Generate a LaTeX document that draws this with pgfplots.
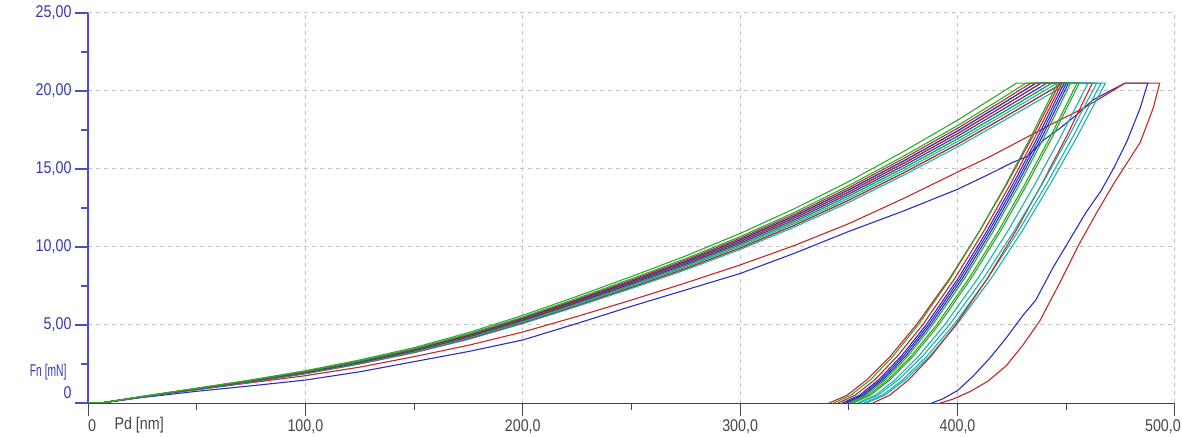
\documentclass[border=0pt]{standalone}
\usepackage{fontspec}
\usepackage{pgfplots}
\pgfplotsset{compat=1.18}
\usepackage{pgfplotstable}
\newfontfamily\tickfont{Liberation Sans}[FakeStretch=0.84]
\newcommand{\tf}{\tickfont\fontsize{17bp}{19bp}\selectfont}
\definecolor{axblue}{RGB}{75,75,205}
\definecolor{lblblue}{RGB}{55,55,175}
\definecolor{xgray}{RGB}{70,70,70}
\definecolor{gridgray}{RGB}{195,195,195}
\definecolor{cred}{RGB}{195,40,40}
\definecolor{cblue}{RGB}{45,45,190}
\definecolor{cgreen}{RGB}{45,170,45}
\definecolor{ccyan}{RGB}{30,175,175}

% bundle loading curves (Fn in mN vs Pd in nm)
\pgfplotstableread{
x    a      b      c      d      e      f      g      h      i      j
0    0      0      0      0      0      0      0      0      0      0
6    0      0      0      0      0      0      0      0      0      0
25   0.42   0.42   0.41   0.41   0.40   0.40   0.40   0.39   0.39   0.38
50   0.95   0.94   0.93   0.92   0.91   0.90   0.89   0.88   0.87   0.86
75   1.48   1.46   1.44   1.43   1.41   1.40   1.39   1.37   1.36   1.34
100  2.07   2.03   2.01   1.99   1.97   1.95   1.93   1.91   1.89   1.87
125  2.76   2.70   2.68   2.65   2.63   2.60   2.57   2.55   2.52   2.50
150  3.55   3.48   3.45   3.42   3.38   3.35   3.32   3.28   3.25   3.22
175  4.51   4.42   4.38   4.34   4.29   4.25   4.21   4.17   4.12   4.08
200  5.62   5.51   5.46   5.41   5.35   5.30   5.25   5.19   5.14   5.09
225  6.84   6.71   6.64   6.58   6.51   6.45   6.39   6.32   6.26   6.19
250  8.11   7.96   7.88   7.80   7.73   7.65   7.57   7.50   7.42   7.34
275  9.43   9.26   9.17   9.08   8.99   8.90   8.81   8.72   8.63   8.54
300  10.87  10.66  10.56  10.46  10.35  10.25  10.15  10.05  9.94   9.84
325  12.46  12.22  12.10  11.99  11.87  11.75  11.63  11.52  11.40  11.28
350  14.20  13.94  13.80  13.67  13.53  13.40  13.27  13.13  13.00  12.86
375  16.11  15.81  15.66  15.50  15.35  15.20  15.05  14.90  14.74  14.59
400  18.13  17.78  17.61  17.44  17.27  17.10  16.93  16.76  16.59  16.42
420  19.88  19.50  19.31  19.13  18.94  18.75  18.56  18.38  18.19  18.00
}\load

\begin{document}
\begin{tikzpicture}
\useasboundingbox (0,0) rectangle (1182bp,437bp);
\begin{axis}[
  at={(88bp,34bp)}, anchor=south west,
  scale only axis, width=1087bp, height=390bp,
  xmin=0, xmax=500, ymin=0, ymax=25,
  axis x line=bottom, axis y line=left,
  axis line style={-},
  x axis line style={draw=xgray, line width=1bp},
  y axis line style={draw=axblue, line width=1.6bp},
  xtick={0,100,200,300,400,500},
  minor xtick={50,150,250,350,450},
  xticklabels={\hspace*{8bp}0,100{,}0,200{,}0,300{,}0,400{,}0,\hspace*{-24bp}500{,}0},
  ytick={0,5,10,15,20,25},
  minor ytick={2.5,7.5,12.5,17.5,22.5},
  yticklabels={\raisebox{10bp}[\height][\depth]{0},5{,}00,10{,}00,15{,}00,20{,}00,25{,}00},
  tick align=outside,
  major tick length=13bp, minor tick length=7bp,
  every x tick/.append style={draw=xgray, line width=1bp},
  every y tick/.append style={draw=axblue, line width=1.6bp},
  xmajorgrids, ymajorgrids,
  grid style={draw=gridgray, line width=1bp, dash pattern=on 4bp off 4bp},
  xticklabel style={text=xgray, font=\tf},
  yticklabel style={text=lblblue, font=\tf},
  xlabel={Pd [nm]},
  xlabel style={at={(axis description cs:0.0212,0)}, anchor=base west, yshift=-26bp, text=xgray, font=\tf},
  ylabel={\scalebox{0.72}[1]{Fn [mN]}},
  ylabel style={rotate=-90, at={(axis description cs:0,0.08)}, anchor=east, xshift=-18bp, text=lblblue, font=\tf},
  every axis plot/.append style={line width=1.1bp, mark=none},
]
% outliers
\addplot[cblue] coordinates {(0,0)(6,0)(25,0.35)(50,0.75)(75,1.1)(100,1.47)(125,2.0)(150,2.65)(175,3.3)(200,4.04)(225,5.1)(250,6.2)(275,7.25)(300,8.3)(325,9.6)(350,11.0)(375,12.3)(400,13.7)(415,14.7)(425,15.4)(432,15.8)(440,16.9)(447,17.6)(455,18.5)(462,19.4)(470,20.0)(477,20.5)(487.5,20.5)(484,18.9)(478,16.8)(472,15.1)(466,13.6)(459,12.2)(453,10.8)(444,8.7)(436,6.6)(430,5.6)(422,4.1)(415,2.9)(407,1.7)(400,0.8)(393,0.25)(388,0)};
\addplot[cred] coordinates {(0,0)(6,0)(25,0.4)(50,0.85)(75,1.3)(100,1.75)(125,2.3)(150,2.97)(175,3.7)(200,4.55)(225,5.55)(250,6.6)(275,7.7)(300,8.85)(325,10.1)(350,11.5)(375,13.1)(400,14.8)(415,15.8)(430,16.9)(445,18.0)(458,18.9)(470,19.9)(477,20.5)(493,20.5)(490,18.9)(484,16.7)(478,15.4)(472,14.1)(464,12.2)(456,10.2)(447,7.7)(438,5.3)(430,3.7)(422.5,2.4)(414,1.4)(406,0.75)(398,0.25)(392,0)};
% bundle: loading from table, then hold and unloading
\addplot[ccyan] table[x=x,y=j]{\load};
\addplot[ccyan] coordinates {(420,18.00)(451,20.5)(468,20.5)(454.7,17)(442.5,14)(429.6,11)(415.5,8)(399.5,5)(387.2,3)(376.1,1.5)(366.5,0.5)(358,0)};
\addplot[ccyan] table[x=x,y=i]{\load};
\addplot[ccyan] coordinates {(420,18.19)(448.3,20.5)(466,20.5)(452.8,17)(440.8,14)(427.9,11)(413.9,8)(398.2,5)(385.9,3)(374.9,1.5)(365.4,0.5)(357,0)};
\addplot[cred] table[x=x,y=i]{\load};
\addplot[cred] coordinates {(420,18.19)(448.3,20.5)(462,20.5)(449.8,17)(438.6,14)(426.7,11)(413.8,8)(399.1,5)(387.8,3)(377.6,1.5)(368.8,0.5)(361,0)};
\addplot[ccyan] table[x=x,y=h]{\load};
\addplot[ccyan] coordinates {(420,18.38)(445.8,20.5)(464,20.5)(450.8,17)(438.8,14)(425.9,11)(411.9,8)(396.2,5)(383.9,3)(372.9,1.5)(363.4,0.5)(355,0)};
\addplot[ccyan] table[x=x,y=g]{\load};
\addplot[ccyan] coordinates {(420,18.56)(443.3,20.5)(460,20.5)(447.2,17)(435.5,14)(423.0,11)(409.4,8)(394.0,5)(382.1,3)(371.4,1.5)(362.2,0.5)(354,0)};
\addplot[cgreen] table[x=x,y=g]{\load};
\addplot[cgreen] coordinates {(420,18.56)(443.3,20.5)(456,20.5)(443.4,17)(431.9,14)(419.7,11)(406.3,8)(391.3,5)(379.6,3)(369.1,1.5)(360.0,0.5)(352,0)};
\addplot[cblue] table[x=x,y=f]{\load};
\addplot[cblue] coordinates {(420,18.75)(441,20.5)(451,20.5)(438.7,17)(427.4,14)(415.4,11)(402.3,8)(387.5,5)(376.1,3)(365.8,1.5)(356.9,0.5)(349,0)};
\addplot[cblue] table[x=x,y=e]{\load};
\addplot[cblue] coordinates {(420,18.94)(438.4,20.5)(450,20.5)(437.7,17)(426.4,14)(414.4,11)(401.3,8)(386.5,5)(375.1,3)(364.8,1.5)(355.9,0.5)(348,0)};
\addplot[cred] table[x=x,y=e]{\load};
\addplot[cred] coordinates {(420,18.94)(438.4,20.5)(448,20.5)(435.5,17)(424.2,14)(412.0,11)(398.8,8)(383.9,5)(372.3,3)(362.0,1.5)(352.9,0.5)(345,0)};
\addplot[cgreen] table[x=x,y=d]{\load};
\addplot[cgreen] coordinates {(420,19.13)(436,20.5)(455,20.5)(442.4,17)(430.9,14)(418.7,11)(405.3,8)(390.3,5)(378.6,3)(368.1,1.5)(359.0,0.5)(351,0)};
\addplot[cblue] table[x=x,y=d]{\load};
\addplot[cblue] coordinates {(420,19.13)(436,20.5)(449,20.5)(436.7,17)(425.4,14)(413.4,11)(400.3,8)(385.5,5)(374.1,3)(363.8,1.5)(354.9,0.5)(347,0)};
\addplot[cred] table[x=x,y=c]{\load};
\addplot[cred] coordinates {(420,19.31)(433.7,20.5)(447,20.5)(434.2,17)(422.5,14)(410.0,11)(396.4,8)(381.0,5)(369.1,3)(358.4,1.5)(349.2,0.5)(341,0)};
\addplot[cgreen] table[x=x,y=b]{\load};
\addplot[cgreen] coordinates {(420,19.50)(431.4,20.5)(452,20.5)(439.7,17)(428.4,14)(416.4,11)(403.3,8)(388.5,5)(377.1,3)(366.8,1.5)(357.9,0.5)(350,0)};
\addplot[cgreen] table[x=x,y=a]{\load};
\addplot[cgreen] coordinates {(420,19.88)(427,20.5)(446,20.5)(433.5,17)(422.2,14)(410.0,11)(396.8,8)(381.9,5)(370.3,3)(360.0,1.5)(350.9,0.5)(343,0)};
\end{axis}
\end{tikzpicture}
\end{document}
